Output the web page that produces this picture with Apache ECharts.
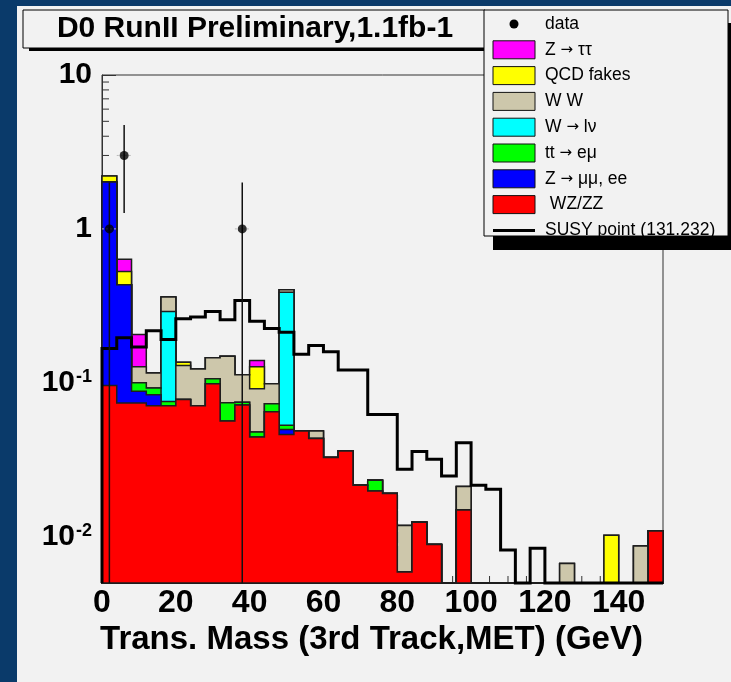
<!DOCTYPE html>
<html>
<head>
<meta charset="utf-8">
<script src="https://cdn.jsdelivr.net/npm/echarts@6/dist/echarts.min.js"></script>
<style>
  html, body { margin: 0; padding: 0; background: #0a3a6a; }
  #chart { width: 731px; height: 682px; }
</style>
</head>
<body>
<div id="chart"></div>
<script>
// Bin edges of the transverse-mass histograms (GeV), 4 GeV bins
const binEdges = [0,4,8,12,16,20,24,28,32,36,40,44,48,52,56,60,64,68,72,76,80,84,88,92,96,100,104,108,112,116,120,124,128,132,136,140,144,148,152];

// Background expectations per bin (events)
const wzzz    = [0.096,0.074,0.074,0.071,0.071,0.078,0.071,0.0985,0.0564,0.0716,0.0444,0.0649,0.0462,0.0486,0.0434,0.0327,0.036,0.0216,0.0198,0.0191,0.0059,0.0124,0.0089,0,0.0149,0,0,0,0,0,0,0,0,0,0,0,0,0.0109];
const zmumuee = [1.92,0.36,0.014,0.0127,0,0,0,0,0,0,0,0,0.0036,0,0,0,0,0,0,0,0,0,0,0,0,0,0,0,0,0,0,0,0,0,0,0,0,0];
const ttemu   = [0,0,0.012,0.0088,0.0047,0,0,0.0077,0.0178,0.0032,0.0034,0.0082,0.0031,0,0,0,0,0,0.0035,0,0,0,0,0,0,0,0,0,0,0,0,0,0,0,0,0,0,0];
const wlnu    = [0,0,0,0,0.215,0,0,0,0,0,0,0,0.334,0,0,0,0,0,0,0,0,0,0,0,0,0,0,0,0,0,0,0,0,0,0,0,0,0];
const ww      = [0,0,0.027,0.0232,0.070,0.0515,0.052,0.039,0.0745,0.038,0.0436,0.0254,0.0158,0,0.0052,0,0,0,0,0,0.0059,0,0,0,0.0063,0,0,0,0,0,0,0.0067,0,0,0,0,0.0087,0];
const qcdFakes= [0.19,0.095,0,0,0,0.0065,0,0,0,0,0.0356,0,0,0,0,0,0,0,0,0,0,0,0,0,0,0,0,0,0,0,0,0,0,0,0.0102,0,0,0];
const ztautau = [0,0.107,0.079,0,0,0,0,0,0,0,0.0125,0,0,0,0,0,0,0,0,0,0,0,0,0,0,0,0,0,0,0,0,0,0,0,0,0,0,0];

// Signal expectation, SUSY point (131.232)
const susy = [0.167,0.196,0.171,0.218,0.191,0.261,0.268,0.291,0.257,0.342,0.251,0.225,0.213,0.153,0.175,0.159,0.121,0.121,0.0623,0.0623,0.0274,0.0357,0.0318,0.0248,0.0408,0.0216,0.0203,0.0082,0,0.0084,0,0,0,0,0,0,0,0];

// Observed events with their error bars
const dataX     = [2, 6, 38];
const dataY     = [1, 3, 1];
const dataYLow  = [0, 1.27, 0];
const dataYHigh = [2, 4.73, 2];

// Axis ranges and tick labels
const xRange = [0, 152];
const yRange = [0.005, 10];
const xTickValues = [0, 20, 40, 60, 80, 100, 120, 140];
const yTickExp  = [-2, -1, 0, 1];
const yTickBase = ['10', '10', '1', '10'];
const yTickSup  = ['-2', '-1', '', ''];

const FONT = '"Liberation Sans", Arial, Helvetica, sans-serif';

const layers = [
  { name: ' WZ/ZZ',       values: wzzz,     color: '#ff0000' },
  { name: 'Z → μμ, ee',   values: zmumuee,  color: '#0000ff' },
  { name: 'tt → eμ',      values: ttemu,    color: '#00ff00' },
  { name: 'W → lν',       values: wlnu,     color: '#00ffff' },
  { name: 'W W',          values: ww,       color: '#cdc7ab' },
  { name: 'QCD fakes',    values: qcdFakes, color: '#ffff00' },
  { name: 'Z → ττ',       values: ztautau,  color: '#ff00ff' }
];

// running sums for the stack
const cumulative = [];
let running = binEdges.slice(1).map(() => 0);
layers.forEach(l => {
  running = running.map((s, i) => s + l.values[i]);
  cumulative.push(running.slice());
});

// histogram contour (steps) through the axis scales; empty bins rest on the frame
function stepPoints(levels, api) {
  const lo = yRange[0];
  const pts = [api.coord([binEdges[0], lo])];
  levels.forEach((v, i) => {
    const h = v > lo ? v : lo;
    pts.push(api.coord([binEdges[i], h]));
    pts.push(api.coord([binEdges[i + 1], h]));
  });
  pts.push(api.coord([binEdges[binEdges.length - 1], lo]));
  return pts;
}

const series = [];

// minor ticks on the log axis (2..9 per decade) and on the x axis (every 5 GeV)
const yMinor = [];
[0.001, 0.01, 0.1, 1].forEach(d => { for (let m = 2; m <= 9; m++) { const v = m * d; if (v > yRange[0] && v < yRange[1]) yMinor.push([xRange[0], v]); } });
const xMinor = [];
for (let x = 5; x < xRange[1]; x += 5) { if (x % 20 !== 0) xMinor.push([x, yRange[0]]); }

series.push({
  type: 'custom', name: 'yminor', silent: true, z: 1, data: yMinor,
  renderItem: (params, api) => {
    const p = api.coord([api.value(0), api.value(1)]);
    return { type: 'line', shape: { x1: p[0], y1: p[1], x2: p[0] + 7, y2: p[1] }, style: { stroke: '#333', lineWidth: 1 } };
  }
});
series.push({
  type: 'custom', name: 'xminor', silent: true, z: 1, data: xMinor,
  renderItem: (params, api) => {
    const p = api.coord([api.value(0), api.value(1)]);
    return { type: 'line', shape: { x1: p[0], y1: p[1], x2: p[0], y2: p[1] - 7 }, style: { stroke: '#333', lineWidth: 1 } };
  }
});

// stacked backgrounds: top sum first, each lower sum painted over it
for (let k = layers.length - 1; k >= 0; k--) {
  const lay = layers[k];
  const lev = cumulative[k];
  series.push({
    type: 'custom', name: lay.name, silent: true, z: 2,
    data: [[xRange[0], 1]],
    renderItem: (params, api) => ({
      type: 'polygon',
      shape: { points: stepPoints(lev, api) },
      style: { fill: lay.color, stroke: '#1e1e1e', lineWidth: 1.5, lineJoin: 'miter' }
    })
  });
}

// signal outline
series.push({
  type: 'custom', name: 'SUSY point (131.232)', silent: true, z: 4,
  data: [[xRange[0], 1]],
  renderItem: (params, api) => ({
    type: 'polyline',
    shape: { points: stepPoints(susy, api) },
    style: { fill: 'none', stroke: '#000', lineWidth: 3, lineJoin: 'miter' }
  })
});

// data error bars
series.push({
  type: 'custom', name: 'data errors', silent: true, z: 5,
  data: dataX.map((x, i) => [x, dataY[i], dataYLow[i], dataYHigh[i]]),
  renderItem: (params, api) => {
    const x = api.value(0), y = api.value(1);
    const lo = Math.max(api.value(2), yRange[0]);
    const a = api.coord([x, lo]);
    const b = api.coord([x, api.value(3)]);
    const l = api.coord([x - 2, y]);
    const r = api.coord([x + 2, y]);
    return {
      type: 'group',
      children: [
        { type: 'line', shape: { x1: l[0], y1: l[1], x2: r[0], y2: r[1] }, style: { stroke: '#b8b8b8', lineWidth: 1, lineDash: [2, 2] } },
        { type: 'line', shape: { x1: a[0], y1: a[1], x2: b[0], y2: b[1] }, style: { stroke: '#111', lineWidth: 1.5 } }
      ]
    };
  }
});

series.push({
  type: 'scatter', name: 'data', z: 6, silent: true,
  symbol: 'circle', symbolSize: 9,
  itemStyle: { color: '#000' },
  data: dataX.map((x, i) => [x, dataY[i]])
});

// legend drawn as a ROOT-style pave
const legendRows = [
  { name: 'data', kind: 'marker' },
  { name: 'Z → ττ', kind: 'box', color: '#ff00ff' },
  { name: 'QCD fakes', kind: 'box', color: '#ffff00' },
  { name: 'W W', kind: 'box', color: '#cdc7ab' },
  { name: 'W → lν', kind: 'box', color: '#00ffff' },
  { name: 'tt → eμ', kind: 'box', color: '#00ff00' },
  { name: 'Z → μμ, ee', kind: 'box', color: '#0000ff' },
  { name: ' WZ/ZZ', kind: 'box', color: '#ff0000' },
  { name: 'SUSY point (131.232)', kind: 'line' }
];
const legendEls = [
  { type: 'rect', shape: { x: 493, y: 23, width: 240, height: 227 }, style: { fill: '#000' } },
  { type: 'rect', shape: { x: 484, y: 10, width: 244, height: 226 }, style: { fill: '#f2f2f2', stroke: '#000', lineWidth: 1 } }
];
legendRows.forEach((row, i) => {
  const yc = 24 + 25.8 * i;
  if (row.kind === 'marker') {
    legendEls.push({ type: 'circle', shape: { cx: 514, cy: yc, r: 4.5 }, style: { fill: '#000' } });
  } else if (row.kind === 'box') {
    legendEls.push({ type: 'rect', shape: { x: 493, y: yc - 9, width: 42, height: 18 }, style: { fill: row.color, stroke: '#111', lineWidth: 1 } });
  } else {
    legendEls.push({ type: 'line', shape: { x1: 493, y1: yc, x2: 535, y2: yc }, style: { stroke: '#000', lineWidth: 3 } });
  }
  legendEls.push({
    type: 'text', x: 545, y: yc,
    style: {
      text: row.name.replace('→', '{arr|→}'),
      fill: '#000', fontSize: 17.5, fontFamily: FONT, align: 'left', verticalAlign: 'middle',
      rich: { arr: { fontFamily: '"DejaVu Sans", sans-serif', fontSize: 15, fill: '#000' } }
    }
  });
});

const option = {
  backgroundColor: '#0a3a6a',
  animation: false,
  grid: { left: 102, right: 68, top: 75, bottom: 99, show: true, borderColor: '#333', borderWidth: 1, backgroundColor: 'transparent', containLabel: false, outerBoundsMode: 'none' },
  xAxis: {
    type: 'value', min: xRange[0], max: xRange[1], interval: 20,
    axisLine: { show: true, lineStyle: { color: '#333', width: 1 } },
    axisTick: { show: true, inside: true, length: 14, lineStyle: { color: '#333' } },
    splitLine: { show: false },
    axisLabel: {
      margin: 4, color: '#000', fontSize: 32, fontWeight: 'bold', fontFamily: FONT,
      showMaxLabel: false,
      formatter: v => (xTickValues.indexOf(v) >= 0 ? String(v) : '')
    },
    name: 'Trans. Mass (3rd Track,MET) (GeV)',
    nameLocation: 'middle', nameGap: 36,
    nameTextStyle: { color: '#000', fontSize: 33, fontWeight: 'bold', fontFamily: FONT, padding: [0, 22, 0, 0], verticalAlign: 'top' }
  },
  yAxis: {
    type: 'log', logBase: 10, min: yRange[0], max: yRange[1],
    axisLine: { show: true, lineStyle: { color: '#333', width: 1 } },
    axisTick: { show: true, inside: true, length: 14, lineStyle: { color: '#333' } },
    splitLine: { show: false },
    axisLabel: {
      margin: 10, color: '#000', fontSize: 30, fontWeight: 'bold', fontFamily: FONT,
      showMinLabel: false,
      formatter: v => {
        const e = Math.log10(v);
        const k = yTickExp.indexOf(Math.round(e));
        if (k < 0 || Math.abs(e - Math.round(e)) > 1e-6) return '';
        return yTickSup[k] ? yTickBase[k] + '{sup|' + yTickSup[k] + '}' : yTickBase[k];
      },
      rich: { sup: { fontSize: 18, fontWeight: 'bold', fontFamily: FONT, color: '#000', verticalAlign: 'top', padding: [0, 0, 12, 1] } }
    }
  },
  series: series,
  graphic: { elements: [
    { type: 'rect', z: -10, silent: true, shape: { x: 17, y: 6, width: 714, height: 676 }, style: { fill: '#f2f2f2' } },
    { type: 'group', z: 100, silent: true, children: [
      { type: 'rect', shape: { x: 29, y: 13, width: 462, height: 38 }, style: { fill: '#000' } },
      { type: 'rect', shape: { x: 23, y: 10, width: 462, height: 38 }, style: { fill: '#f2f2f2', stroke: '#000', lineWidth: 1 } },
      { type: 'text', x: 255, y: 29, style: { text: 'D0 RunII Preliminary,1.1fb-1', fill: '#000', fontSize: 30, fontWeight: 'bold', fontFamily: FONT, align: 'center', verticalAlign: 'middle' } }
    ] },
    { type: 'group', z: 101, silent: true, children: legendEls }
  ] }
};

const chart = echarts.init(document.getElementById('chart'));
chart.setOption(option);
</script>
</body>
</html>
